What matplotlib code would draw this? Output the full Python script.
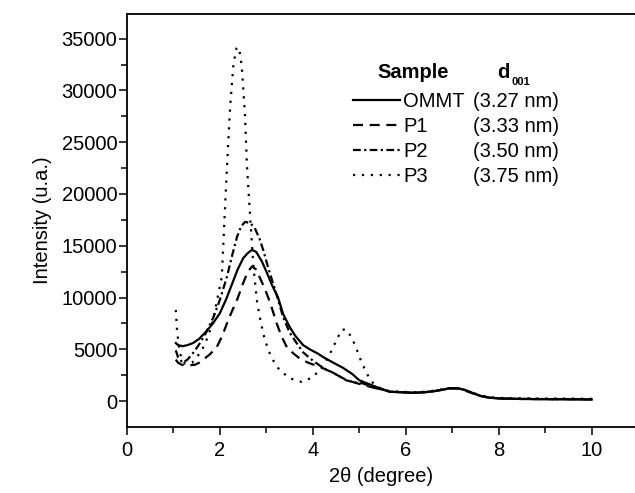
import matplotlib
matplotlib.use('Agg')
import matplotlib.pyplot as plt

plt.rcParams['font.family'] = ['Liberation Sans', 'DejaVu Sans']

# --- data ---
tail_x = [5.66, 5.9, 6.16, 6.4, 6.6, 6.8, 6.95, 7.1, 7.25, 7.4, 7.6, 7.8, 8.0, 8.5, 9.0, 9.5, 10.0]

ommt_x = [1.05, 1.1, 1.2, 1.3, 1.42, 1.55, 1.7, 1.85, 2.0, 2.13, 2.26, 2.38, 2.5, 2.6, 2.69,
          2.78, 2.9, 3.0, 3.12, 3.25, 3.36, 3.5, 3.62, 3.79, 3.95, 4.1, 4.22, 4.4, 4.65, 4.85,
          5.0, 5.2, 5.4] + tail_x
ommt_y = [5600, 5400, 5300, 5400, 5600, 6000, 6700, 7500, 8500, 9800, 11300, 12700, 13800, 14300, 14600,
          14400, 13500, 12500, 11200, 10000, 8400, 7150, 6300, 5400, 4950, 4600, 4250, 3800, 3200, 2600,
          2000, 1650, 1300,
          900, 850, 800, 850, 950, 1100, 1250, 1250, 1100, 850, 500, 320, 250, 200, 180, 170, 150]

p1_x = [1.05, 1.1, 1.18, 1.3, 1.46, 1.55, 1.64, 1.78, 1.93, 2.05, 2.15, 2.26, 2.37, 2.5, 2.6, 2.69,
        2.78, 2.86, 2.97, 3.08, 3.22, 3.33, 3.44, 3.58, 3.72, 3.9, 4.15, 4.4, 4.65, 4.85, 5.08,
        5.3, 5.5] + tail_x
p1_y = [4000, 3700, 3500, 3450, 3500, 3700, 4000, 4500, 5200, 6300, 7500, 8700, 9800, 11400, 12500, 13000,
        12700, 11900, 10800, 9500, 7500, 6200, 5200, 4600, 4100, 3700, 3300, 2800, 2200, 1850, 1550,
        1300, 1100,
        900, 850, 800, 850, 950, 1100, 1200, 1200, 1050, 800, 480, 320, 250, 200, 180, 170, 150]

p2_x = [1.05, 1.1, 1.2, 1.3, 1.45, 1.57, 1.7, 1.86, 2.0, 2.15, 2.27, 2.37, 2.46, 2.54, 2.65, 2.75,
        2.85, 2.93, 3.03, 3.14, 3.25, 3.36, 3.5, 3.65, 3.79, 4.0, 4.22, 4.45, 4.72, 4.9, 5.08,
        5.3, 5.5] + tail_x
p2_y = [4900, 4200, 3700, 4000, 4800, 5600, 6600, 8100, 9800, 12000, 14200, 15900, 16900, 17300, 17200, 16700,
        15700, 14600, 13000, 11400, 9800, 8100, 6600, 5600, 4700, 3900, 3200, 2700, 2000, 1800, 1700,
        1300, 1100,
        900, 850, 800, 850, 950, 1100, 1250, 1250, 1100, 850, 500, 330, 260, 210, 190, 180, 160]

p3_x = [1.05, 1.08, 1.14, 1.2, 1.25, 1.4, 1.6, 1.75, 1.85, 1.95, 2.04, 2.1, 2.15, 2.22, 2.29, 2.36,
        2.42, 2.47, 2.54, 2.58, 2.65, 2.72, 2.8, 2.88, 2.95, 3.05, 3.15, 3.28, 3.5, 3.76, 4.0, 4.2,
        4.37, 4.5, 4.62, 4.72, 4.84, 4.95, 5.05, 5.18, 5.3, 5.5] + tail_x
p3_y = [8800, 6600, 4600, 3900, 3600, 3700, 4800, 6300, 7800, 10000, 12000, 17800, 22500, 28500, 32500, 34200,
        33800, 32300, 27500, 22800, 17800, 13000, 9500, 7600, 6200, 4800, 3900, 3000, 2200, 1850, 2300, 3300,
        4600, 5800, 6900, 6900, 6100, 4900, 3700, 2500, 1700, 1100,
        950, 900, 850, 900, 1000, 1150, 1250, 1250, 1100, 850, 550, 380, 300, 260, 250, 240, 220]

names = ['OMMT', 'P1', 'P2', 'P3']
d001 = ['(3.27 nm)', '(3.33 nm)', '(3.50 nm)', '(3.75 nm)']

xs = [ommt_x, p1_x, p2_x, p3_x]
ys = [ommt_y, p1_y, p2_y, p3_y]
styles = ['-', (0, (4.5, 3)), (0, (3.5, 1.5, 1, 1.5)), (0, (1, 3))]

FS = 14.5

fig = plt.figure(figsize=(6.35, 4.93), dpi=100)
ax = fig.add_axes([0.2, 0.134, 0.8, 0.838])

handles = []
for x, y, ls, nm in zip(xs, ys, styles, names):
    ln, = ax.plot(x, y, color='black', lw=1.6, linestyle=ls, label=nm)
    handles.append(ln)

ax.set_xlim(0, 10.93)
ax.set_ylim(-2500, 37400)
ax.set_xticks([0, 2, 4, 6, 8, 10])
ax.set_xticks([1, 3, 5, 7, 9], minor=True)
ax.set_yticks(range(0, 35001, 5000))
ax.set_yticks(range(2500, 37500, 5000), minor=True)

ax.spines['right'].set_visible(False)
for s in ['left', 'bottom', 'top']:
    ax.spines[s].set_linewidth(1.3)
ax.tick_params(which='both', direction='out', width=1.1, labelsize=FS, top=False, right=False)
ax.tick_params(which='major', length=6)
ax.tick_params(which='minor', length=4)
ax.tick_params(axis='y', pad=1)
ax.tick_params(axis='x', pad=4)

ax.set_xlabel('2\u03b8 (degree)', fontsize=FS, labelpad=5)
ax.set_ylabel('Intensity (u.a.)', fontsize=FS, labelpad=7)

leg = ax.legend(handles, names, loc='upper left', bbox_to_anchor=(353 / 635, 1 - 92 / 493),
                bbox_transform=fig.transFigure, frameon=False, fontsize=FS,
                handlelength=2.35, handletextpad=0.15, labelspacing=0.3,
                borderpad=0, borderaxespad=0)

fig.canvas.draw()
inv = fig.transFigure.inverted()
r = fig.canvas.get_renderer()
ycs = []
for t in leg.get_texts():
    bb = t.get_window_extent(r)
    (_, y0), (_, y1) = inv.transform([(bb.x0, bb.y0), (bb.x1, bb.y1)])
    ycs.append((y0 + y1) / 2)
for yc, dv in zip(ycs, d001):
    fig.text(473 / 635, yc, dv, fontsize=FS, va='center', ha='left')

hy = 1 - 72 / 493
fig.text(377 / 635, hy, 'Sample', fontsize=FS, fontweight='bold', va='center', ha='left')
fig.text(497 / 635, hy, 'd', fontsize=FS, fontweight='bold', va='center', ha='left')
fig.text(512 / 635, hy - 10 / 493, '001', fontsize=8, fontweight='bold', va='center', ha='left')

fig.savefig('out.png', dpi=100)
